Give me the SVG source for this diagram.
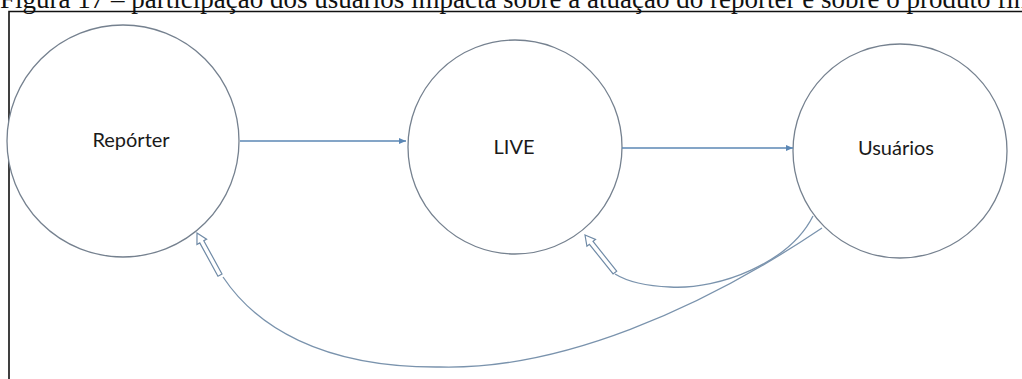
<svg xmlns="http://www.w3.org/2000/svg" width="1022" height="379" viewBox="0 0 1022 379">
<style>
.node{fill:#fff;stroke:#75818f;stroke-width:1.3}
.lbl{font-family:Lato,"Open Sans","Liberation Sans",sans-serif;font-size:20px;fill:#1a1a1a;text-anchor:middle}
.edge{fill:none;stroke:#5b87b5;stroke-width:1.3}
.curve{fill:none;stroke:#7a93ad;stroke-width:1.3}
.hollow{fill:#fff;stroke:#6f8aa6;stroke-width:1.2;stroke-linejoin:miter}
.title{font-family:"Liberation Serif","Times New Roman",serif;font-size:27px;fill:#111}
</style>
<defs>
<marker id="ah" markerWidth="8" markerHeight="8" refX="7" refY="4" orient="auto" markerUnits="userSpaceOnUse">
<path d="M0,1 L7,4 L0,7 Z" fill="#5b87b5"/>
</marker>
<path id="harrow" d="M0,0 L5.5,10 L2.3,10 L2.3,48 L-2.3,48 L-2.3,10 L-5.5,10 Z"/>
</defs>
<rect width="1022" height="379" fill="#fff"/>
<text class="title" x="0" y="7.5">Figura 17 – participação dos usuários impacta sobre a atuação do repórter e sobre o produto final</text>
<path d="M9,379 L9,11.5 L1022,11.5" fill="none" stroke="#111" stroke-width="1.6"/>
<g id="reporter">
<circle class="node" cx="123" cy="141" r="116"/>
<text class="lbl" x="131" y="147">Repórter</text>
</g>
<g id="live">
<circle class="node" cx="515" cy="147" r="107"/>
<text class="lbl" x="514" y="154">LIVE</text>
</g>
<g id="usuarios">
<circle class="node" cx="900" cy="151" r="107"/>
<text class="lbl" x="896" y="155">Usuários</text>
</g>
<g id="connectors">
<line class="edge" x1="240" y1="141" x2="406" y2="141" marker-end="url(#ah)"/>
<line class="edge" x1="622" y1="148" x2="793" y2="148" marker-end="url(#ah)"/>
<path class="curve" d="M813,216 C790,262 720,290 670,287 C645,286 628,282 615,274"/>
<path class="curve" d="M822,228 C700,310 560,370 440,367 C320,368 255,325 223,277"/>
<use href="#harrow" class="hollow" transform="translate(585,235) rotate(-38.5)"/>
<use href="#harrow" class="hollow" transform="translate(197,233) rotate(-28.6)"/>
</g>
</svg>
